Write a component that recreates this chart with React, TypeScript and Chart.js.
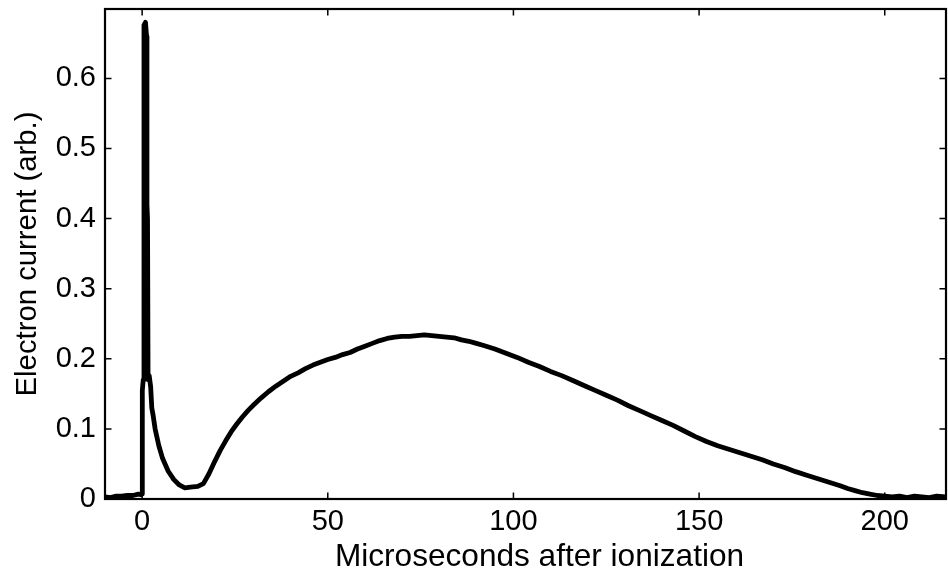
import React, { useEffect, useRef } from "react";
import { Chart, registerables } from "chart.js";

Chart.register(...registerables);

// Time after ionization (microseconds)
const timeUs: number[] = [
  -10, -8.5, -7, -5.5, -4, -2.5, -1, -0.3, 0, 0.05, 0.3, 0.5, 0.9, 1.2, 1.3, 1.45, 1.6, 1.9, 2.3, 2.6,
  3.0, 3.5, 4.5, 5.5, 7, 8.5, 10, 11.5, 13, 15, 16.5, 18, 19.5, 21, 22.5, 24, 25.5, 27, 28.5, 30,
  32, 34, 36, 38, 40, 42, 44, 46, 48, 50, 52, 54, 56, 58, 60, 62, 64, 66, 68, 70,
  72, 74, 76, 78, 80, 82, 84, 86, 88, 90, 92, 95, 98, 101, 104, 107, 110, 113, 116, 119,
  122, 125, 128, 131, 134, 137, 140, 143, 146, 149, 152, 155, 158, 161, 164, 167, 170, 173, 176, 179,
  182, 185, 188, 190, 192, 194, 196, 198, 200, 202, 204, 206, 208, 210, 212, 214, 216.5,
];

// Electron current (arb.)
const current: number[] = [
  0.003, 0.002, 0.004, 0.004, 0.005, 0.005, 0.007, 0.006, 0.007, 0.155, 0.17, 0.676, 0.68, 0.66, 0.42, 0.4, 0.17, 0.176, 0.16, 0.13,
  0.118, 0.1, 0.076, 0.058, 0.04, 0.028, 0.02, 0.016, 0.017, 0.018, 0.022, 0.036, 0.053, 0.069, 0.083, 0.096, 0.107, 0.117, 0.126, 0.134,
  0.144, 0.153, 0.161, 0.168, 0.175, 0.18, 0.186, 0.191, 0.195, 0.199, 0.202, 0.206, 0.209, 0.214, 0.218, 0.222, 0.226, 0.229, 0.231, 0.232,
  0.232, 0.233, 0.234, 0.233, 0.232, 0.231, 0.23, 0.227, 0.225, 0.222, 0.219, 0.214, 0.208, 0.202, 0.195, 0.189, 0.182, 0.176, 0.169, 0.162,
  0.155, 0.148, 0.141, 0.133, 0.126, 0.119, 0.112, 0.105, 0.097, 0.089, 0.082, 0.076, 0.071, 0.066, 0.061, 0.056, 0.05, 0.045, 0.039, 0.034,
  0.029, 0.024, 0.019, 0.015, 0.012, 0.009, 0.007, 0.005, 0.004, 0.003, 0.004, 0.002, 0.004, 0.003, 0.002, 0.004, 0.003,
];

const xTickValues: number[] = [0, 50, 100, 150, 200];
const yTickValues: number[] = [0, 0.1, 0.2, 0.3, 0.4, 0.5, 0.6];
const xTitle = "Microseconds after ionization";
const yTitle = "Electron current (arb.)";

const FONT = "'Liberation Sans', Arial, Helvetica, sans-serif";

const boxPlugin = {
  id: "matlabBox",
  afterDatasetsDraw(chart: any) {
    const { ctx, chartArea, scales } = chart;
    const { left, right, top, bottom } = chartArea;
    ctx.save();
    ctx.strokeStyle = "#000";
    ctx.lineWidth = 1.5;
    const tl = 6.5;
    ctx.beginPath();
    for (const v of xTickValues) {
      const px = scales.x.getPixelForValue(v);
      ctx.moveTo(px, bottom);
      ctx.lineTo(px, bottom - tl);
      ctx.moveTo(px, top);
      ctx.lineTo(px, top + tl);
    }
    for (const v of yTickValues) {
      const py = scales.y.getPixelForValue(v);
      ctx.moveTo(left, py);
      ctx.lineTo(left + tl, py);
      ctx.moveTo(right, py);
      ctx.lineTo(right - tl, py);
    }
    ctx.stroke();
    ctx.lineWidth = 2.2;
    ctx.strokeRect(left, top, right - left, bottom - top);

    // x-axis title (MATLAB-style xlabel)
    ctx.fillStyle = "#000";
    ctx.font = `31.6px ${FONT}`;
    ctx.textAlign = "center";
    ctx.textBaseline = "middle";
    ctx.fillText(xTitle, (left + right) / 2 + 14, bottom + 58);
    ctx.restore();
  },
};

export default function App() {
  const canvasRef = useRef<HTMLCanvasElement | null>(null);

  useEffect(() => {
    if (!canvasRef.current) return;
    const points = timeUs.map((t, i) => ({ x: t, y: current[i] }));
    const chart = new Chart(canvasRef.current, {
      type: "line",
      data: {
        datasets: [
          {
            data: points,
            borderColor: "#000",
            borderWidth: 4.8,
            pointRadius: 0,
            tension: 0,
            fill: false,
            borderJoinStyle: "round",
            borderCapStyle: "round",
          },
        ],
      },
      options: {
        responsive: false,
        animation: false,
        events: [],
        layout: { padding: { left: 0, right: 2, top: 9, bottom: 0 } },
        plugins: { legend: { display: false }, tooltip: { enabled: false } },
        scales: {
          x: {
            type: "linear",
            min: -10,
            max: 216.5,
            afterFit: (s: any) => {
              s.height = 78;
              s.paddingLeft = 0;
              s.paddingRight = 0;
              s.paddingTop = 0;
              s.paddingBottom = 0;
            },
            afterBuildTicks: (s: any) => {
              s.ticks = xTickValues.map((v) => ({ value: v }));
            },
            grid: { display: false, drawTicks: false },
            border: { display: false },
            ticks: {
              color: "#000",
              padding: 6,
              maxRotation: 0,
              font: { family: FONT, size: 29 },
              callback: (v: any) => String(v),
            },
            title: { display: false },
          },
          y: {
            type: "linear",
            min: 0,
            max: 0.699,
            afterFit: (s: any) => {
              s.width = 105;
              s.paddingLeft = 0;
              s.paddingRight = 0;
              s.paddingTop = 0;
              s.paddingBottom = 0;
            },
            afterBuildTicks: (s: any) => {
              s.ticks = yTickValues.map((v) => ({ value: v }));
            },
            grid: { display: false, drawTicks: false },
            border: { display: false },
            ticks: {
              color: "#000",
              padding: 9,
              font: { family: FONT, size: 29 },
              callback: (v: any) => String(Math.round(v * 10) / 10),
            },
            title: {
              display: true,
              text: yTitle,
              color: "#000",
              font: { family: FONT, size: 29.3 },
              padding: { top: 10, bottom: 0 },
            },
          },
        },
      },
      plugins: [boxPlugin],
    });
    return () => chart.destroy();
  }, []);

  return (
    <div style={{ position: "absolute", left: 0, top: 0, width: 948, height: 577, background: "#fff" }}>
      <canvas ref={canvasRef} width={948} height={577} />
    </div>
  );
}
